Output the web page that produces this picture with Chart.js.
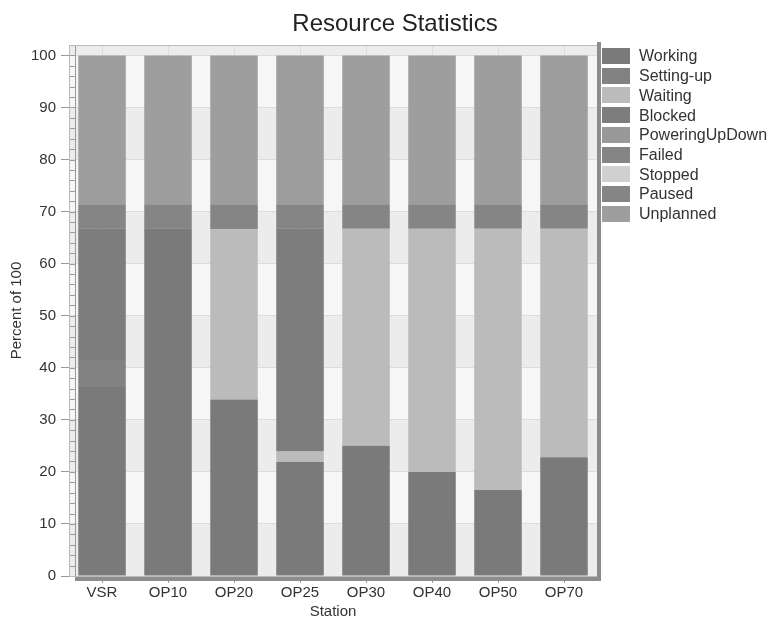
<!DOCTYPE html>
<html lang="en">
<head>
  <meta charset="UTF-8">
  <title>Resource Statistics</title>
  <script src="https://cdn.jsdelivr.net/npm/chart.js"></script>
  <style>
    html, body { margin: 0; padding: 0; background: #fff; }
    .box { width: 774px; height: 621px; }
  </style>
</head>
<body>
  <div class="box">
    <canvas id="grafico"></canvas>
  </div>

<script>
  // categorias e séries (percentual de cada estado por estação)
  const stations = ['VSR', 'OP10', 'OP20', 'OP25', 'OP30', 'OP40', 'OP50', 'OP70'];
  const working = [36.3, 66.8, 33.9, 21.9, 25.0, 20.0, 16.5, 22.8];
  const settingUp = [5.2, 0, 0, 0, 0, 0, 0, 0];
  const waiting = [0, 0, 32.7, 2.0, 41.7, 46.7, 50.2, 43.9];
  const blocked = [25.3, 0, 0, 42.9, 0, 0, 0, 0];
  const poweringUpDown = [0, 0, 0, 0, 0, 0, 0, 0];
  const failed = [0, 0, 0, 0, 0, 0, 0, 0];
  const stopped = [0, 0, 0, 0, 0, 0, 0, 0];
  const paused = [4.6, 4.6, 4.8, 4.6, 4.7, 4.7, 4.7, 4.7];
  const unplanned = [28.6, 28.6, 28.6, 28.6, 28.6, 28.6, 28.6, 28.6];
  const yTicks = [0, 10, 20, 30, 40, 50, 60, 70, 80, 90, 100];

  const fonte = '"Liberation Sans", Arial, sans-serif';
  Chart.defaults.font.family = fonte;
  Chart.defaults.color = '#333';

  function serie(label, data, cor) {
    return {
      label: label,
      data: data,
      backgroundColor: cor,
      borderWidth: 0,
      barPercentage: 0.72,
      categoryPercentage: 1
    };
  }

  // fundo com faixas alternadas, moldura, título e legenda
  const fundo = {
    id: 'fundo',
    beforeDraw(chart) {
      const { ctx, chartArea: a, scales: { y } } = chart;
      ctx.save();
      ctx.fillStyle = '#ececec';
      ctx.fillRect(a.left, a.top, a.right - a.left, a.bottom - a.top);
      ctx.fillStyle = '#f6f6f6';
      for (let v = 10; v < 100; v += 20) {
        const t = y.getPixelForValue(v + 10), b = y.getPixelForValue(v);
        ctx.fillRect(a.left, t, a.right - a.left, b - t);
      }
      ctx.restore();
    },
    afterDraw(chart) {
      const { ctx, chartArea: a, scales: { y } } = chart;
      ctx.save();
      // escada de ticks menores
      ctx.strokeStyle = '#9a9a9a';
      ctx.lineWidth = 1;
      ctx.beginPath();
      ctx.moveTo(a.left + 6.5, a.top);
      ctx.lineTo(a.left + 6.5, a.bottom);
      for (let v = 0; v <= 100; v += 2) {
        const p = Math.round(y.getPixelForValue(v)) + 0.5;
        ctx.moveTo(a.left, p);
        ctx.lineTo(a.left + 6, p);
      }
      ctx.stroke();
      ctx.strokeStyle = '#bbb';
      ctx.strokeRect(a.left + 0.5, a.top + 0.5, a.right - a.left, a.bottom - a.top);
      // borda direita e base
      ctx.fillStyle = '#8c8c8c';
      ctx.fillRect(a.right, a.top - 3, 4, a.bottom - a.top + 8);
      ctx.fillRect(a.left + 6, a.bottom + 1, a.right - a.left - 2, 4);

      // título
      ctx.fillStyle = '#222';
      ctx.font = '24px ' + fonte;
      ctx.textAlign = 'center';
      ctx.textBaseline = 'alphabetic';
      ctx.fillText('Resource Statistics', 395, 31);

      // legenda
      ctx.font = '16px ' + fonte;
      ctx.textAlign = 'left';
      ctx.textBaseline = 'middle';
      chart.data.datasets.forEach(function (ds, i) {
        const yc = 56 + i * 19.7;
        ctx.fillStyle = ds.backgroundColor;
        ctx.fillRect(602, Math.round(yc - 8), 28, 16);
        ctx.fillStyle = '#333';
        ctx.fillText(ds.label, 639, yc + 1);
      });
      ctx.restore();
    }
  };

  const dados = {
    labels: stations,
    datasets: [
      serie('Working', working, '#7a7a7a'),
      serie('Setting-up', settingUp, '#828282'),
      serie('Waiting', waiting, '#bbbbbb'),
      serie('Blocked', blocked, '#7d7d7d'),
      serie('PoweringUpDown', poweringUpDown, '#999999'),
      serie('Failed', failed, '#858585'),
      serie('Stopped', stopped, '#d0d0d0'),
      serie('Paused', paused, '#858585'),
      serie('Unplanned', unplanned, '#9e9e9e')
    ]
  };

  const config = {
    type: 'bar',
    data: dados,
    options: {
      responsive: true,
      maintainAspectRatio: false,
      animation: false,
      layout: { padding: { left: 2, right: 177, top: 45, bottom: 0 } },
      plugins: {
        title: { display: false },
        legend: { display: false },
        tooltip: { enabled: false }
      },
      scales: {
        x: {
          stacked: true,
          grid: { color: '#dcdcdc', offset: false, tickLength: 7, tickColor: '#999' },
          border: { display: false },
          ticks: { color: '#333', font: { size: 15 }, padding: 1 },
          title: { display: true, text: 'Station', color: '#333', font: { size: 15 }, padding: { top: 0, bottom: 0 } }
        },
        y: {
          stacked: true,
          min: 0,
          max: 102,
          afterBuildTicks: s => { s.ticks = yTicks.map(v => ({ value: v })); },
          grid: { color: '#dcdcdc', tickLength: 8, tickColor: '#999' },
          border: { display: false },
          ticks: { color: '#333', font: { size: 15 }, padding: 5 },
          title: { display: true, text: 'Percent of 100', color: '#333', font: { size: 15 }, padding: { top: 6, bottom: 0 } }
        }
      }
    },
    plugins: [fundo]
  };

  let myChart = new Chart(document.getElementById('grafico'), config);
</script>
</body>
</html>
